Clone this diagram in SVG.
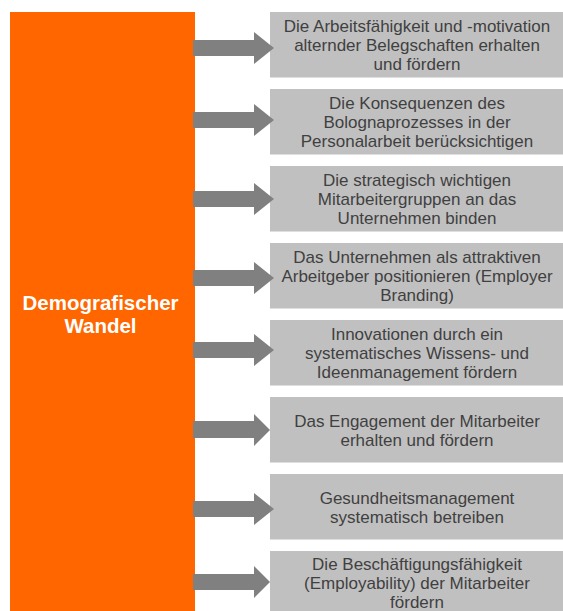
<svg xmlns="http://www.w3.org/2000/svg" width="563" height="611" viewBox="0 0 563 611">
<style>
.box{fill:#C0C0C0}
.t{font-family:"Liberation Sans",Arial,sans-serif;font-size:17px;fill:#404040;text-anchor:middle}
.arr{fill:#808080}
.main{font-family:"Liberation Sans",Arial,sans-serif;font-size:20.5px;font-weight:bold;fill:#FFFFFF;text-anchor:middle}
</style>
<rect width="563" height="611" fill="#FFFFFF"/>
<g id="demografischer-wandel">
<rect x="10" y="12" width="185" height="600" fill="#FF6600"/>
<text class="main" x="100.5" y="310">Demografischer</text>
<text class="main" x="100.5" y="333">Wandel</text>
</g>
<g id="box1">
<rect class="box" x="270" y="12" width="293" height="65.5"/>
<text class="t" x="417" y="32">Die Arbeitsfähigkeit und -motivation</text>
<text class="t" x="417" y="51">alternder Belegschaften erhalten</text>
<text class="t" x="417" y="70">und fördern</text>
</g>
<g id="box2">
<rect class="box" x="270" y="89" width="293" height="65.5"/>
<text class="t" x="417" y="109">Die Konsequenzen des</text>
<text class="t" x="417" y="128">Bolognaprozesses in der</text>
<text class="t" x="417" y="147">Personalarbeit berücksichtigen</text>
</g>
<g id="box3">
<rect class="box" x="270" y="166" width="293" height="65.5"/>
<text class="t" x="417" y="186">Die strategisch wichtigen</text>
<text class="t" x="417" y="205">Mitarbeitergruppen an das</text>
<text class="t" x="417" y="224">Unternehmen binden</text>
</g>
<g id="box4">
<rect class="box" x="270" y="243" width="293" height="65.5"/>
<text class="t" x="417" y="263">Das Unternehmen als attraktiven</text>
<text class="t" x="417" y="282">Arbeitgeber positionieren (Employer</text>
<text class="t" x="417" y="301">Branding)</text>
</g>
<g id="box5">
<rect class="box" x="270" y="320" width="293" height="65.5"/>
<text class="t" x="417" y="340">Innovationen durch ein</text>
<text class="t" x="417" y="359">systematisches Wissens- und</text>
<text class="t" x="417" y="378">Ideenmanagement fördern</text>
</g>
<g id="box6">
<rect class="box" x="270" y="397" width="293" height="65.5"/>
<text class="t" x="417" y="426.5">Das Engagement der Mitarbeiter</text>
<text class="t" x="417" y="445.5">erhalten und fördern</text>
</g>
<g id="box7">
<rect class="box" x="270" y="474" width="293" height="65.5"/>
<text class="t" x="417" y="503.5">Gesundheitsmanagement</text>
<text class="t" x="417" y="522.5">systematisch betreiben</text>
</g>
<g id="box8">
<rect class="box" x="270" y="551" width="293" height="65.5"/>
<text class="t" x="417" y="570">Die Beschäftigungsfähigkeit</text>
<text class="t" x="417" y="589">(Employability) der Mitarbeiter</text>
<text class="t" x="417" y="608">fördern</text>
</g>
<g id="connectors">
<polygon class="arr" points="193,40 254,40 254,32 274,48 254,64 254,56 193,56"/>
<polygon class="arr" points="193,112 254,112 254,104 274,120 254,136 254,128 193,128"/>
<polygon class="arr" points="193,191 254,191 254,183 274,199 254,215 254,207 193,207"/>
<polygon class="arr" points="193,270 254,270 254,262 274,278 254,294 254,286 193,286"/>
<polygon class="arr" points="193,342 254,342 254,334 274,350 254,366 254,358 193,358"/>
<polygon class="arr" points="193,421 254,421 254,414 270,430 254,446 254,438 193,438"/>
<polygon class="arr" points="193,501 254,501 254,493 274,509 254,525 254,517 193,517"/>
<polygon class="arr" points="193,574 254,574 254,566 270,582 254,598 254,590 193,590"/>
</g>
</svg>
